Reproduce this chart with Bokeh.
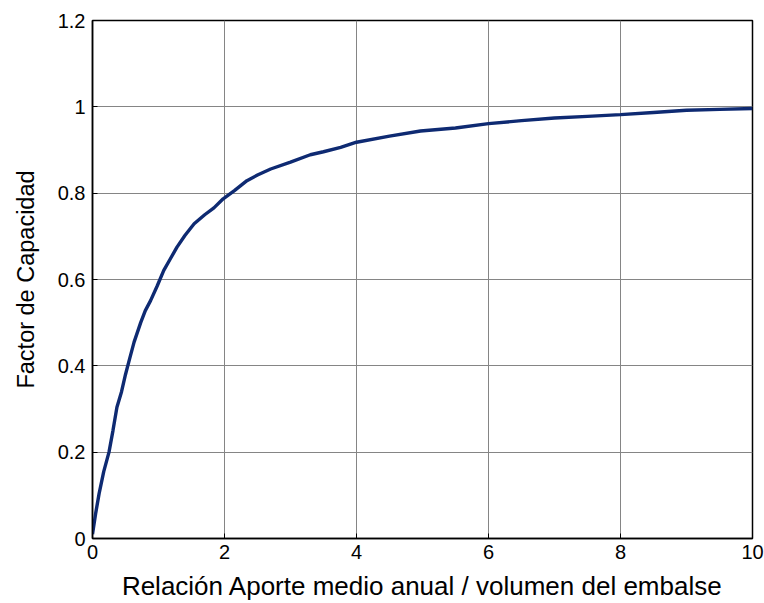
from bokeh.plotting import figure
from bokeh.models import FixedTicker, Range1d
from bokeh.embed import file_html
from bokeh.resources import INLINE

ratio = [0, 0.05, 0.1, 0.17, 0.25, 0.31, 0.37, 0.44, 0.5, 0.56, 0.63, 0.73, 0.8, 0.88,
         0.98, 1.08, 1.18, 1.28, 1.40, 1.54, 1.70, 1.84, 1.98, 2.15, 2.34, 2.50, 2.70,
         3.0, 3.30, 3.50, 3.76, 4.0, 4.5, 4.97, 5.5, 6.0, 6.5, 7.0, 7.5, 8.0, 8.5, 9.0,
         9.5, 10.0]
factor = [0.01, 0.06, 0.104, 0.155, 0.2, 0.25, 0.304, 0.34, 0.38, 0.415, 0.455, 0.5,
          0.528, 0.551, 0.585, 0.621, 0.648, 0.675, 0.702, 0.729, 0.75, 0.766, 0.787,
          0.806, 0.829, 0.842, 0.856, 0.872, 0.889, 0.896, 0.906, 0.918, 0.932, 0.944,
          0.951, 0.961, 0.968, 0.974, 0.978, 0.982, 0.987, 0.992, 0.994, 0.996]
x_ticks = [0, 2, 4, 6, 8, 10]
y_ticks = [0, 0.2, 0.4, 0.6, 0.8, 1, 1.2]
x_tick_labels = ["0", "2", "4", "6", "8", "10"]
y_tick_labels = ["0", "0.2", "0.4", "0.6", "0.8", "1", "1.2"]

FONT = "Liberation Sans"

p = figure(width=764, height=603, output_backend="svg", toolbar_location=None,
           x_range=Range1d(0, 10), y_range=Range1d(0, 1.2),
           min_border_left=92, min_border_right=12, min_border_top=20, min_border_bottom=65)

p.line(ratio, factor, line_color="#0e2a72", line_width=3.4)

p.xaxis.ticker = FixedTicker(ticks=x_ticks)
p.yaxis.ticker = FixedTicker(ticks=y_ticks)
p.xaxis.major_label_overrides = dict(zip(x_ticks, x_tick_labels))
p.yaxis.major_label_overrides = dict(zip(y_ticks, y_tick_labels))
p.xaxis.axis_label = "Relación Aporte medio anual / volumen del embalse"
p.yaxis.axis_label = "Factor de Capacidad"

for ax in (p.xaxis[0], p.yaxis[0]):
    ax.axis_line_color = "black"
    ax.axis_line_width = 1.5
    ax.major_tick_in = 5
    ax.major_tick_out = 0
    ax.minor_tick_in = 0
    ax.minor_tick_out = 0
    ax.major_tick_line_color = "black"
    ax.major_label_text_font = FONT
    ax.major_label_text_font_size = "20px"
    ax.major_label_text_color = "black"
    ax.axis_label_text_font = FONT
    ax.axis_label_text_font_style = "normal"
    ax.axis_label_text_color = "black"

p.xaxis.axis_label_text_font_size = "26px"
p.yaxis.axis_label_text_font_size = "23.5px"
p.xaxis.major_label_standoff = 6
p.xaxis.axis_label_standoff = 9
p.yaxis.major_label_standoff = 7
p.yaxis.axis_label_standoff = 16

p.xgrid.grid_line_color = "#858585"
p.ygrid.grid_line_color = "#858585"
p.xgrid.grid_line_width = 1
p.ygrid.grid_line_width = 1
p.outline_line_color = "black"
p.outline_line_width = 1.5
p.background_fill_color = "white"
p.border_fill_color = "white"

open("out.html", "w").write(file_html(p, INLINE))
